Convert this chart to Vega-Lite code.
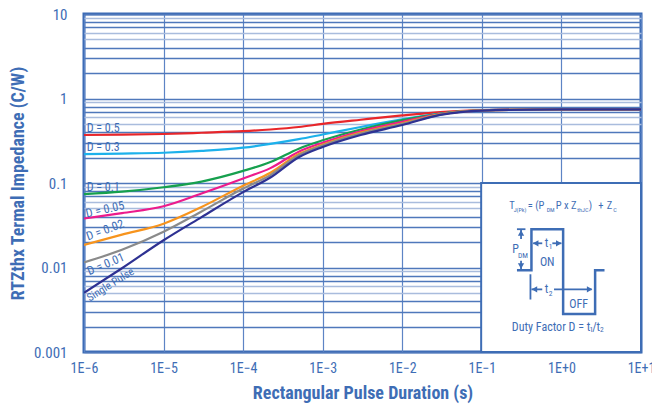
{
  "$schema": "https://vega.github.io/schema/vega-lite/v6.json",
  "width": 557,
  "height": 338,
  "autosize": "none",
  "padding": {"left": 84, "top": 14, "right": 11, "bottom": 57},
  "background": "white",
  "config": {
    "view": {"stroke": "#3a6ab5", "strokeWidth": 3},
    "font": "Roboto Condensed, Liberation Sans Narrow, DejaVu Sans Condensed, sans-serif",
    "text": {"font": "Roboto Condensed, Liberation Sans Narrow, DejaVu Sans Condensed, sans-serif", "color": "#3e6db5"}
  },
  "datasets": {
    "curves": [
      {"series": "D = 0.5", "x": 1e-6, "y": 0.37}, {"series": "D = 0.5", "x": 3e-6, "y": 0.373}, {"series": "D = 0.5", "x": 1e-5, "y": 0.38}, {"series": "D = 0.5", "x": 3e-5, "y": 0.393}, {"series": "D = 0.5", "x": 1e-4, "y": 0.41}, {"series": "D = 0.5", "x": 2.2e-4, "y": 0.43}, {"series": "D = 0.5", "x": 5e-4, "y": 0.46}, {"series": "D = 0.5", "x": 1e-3, "y": 0.5}, {"series": "D = 0.5", "x": 3e-3, "y": 0.56}, {"series": "D = 0.5", "x": 1e-2, "y": 0.63}, {"series": "D = 0.5", "x": 3e-2, "y": 0.69}, {"series": "D = 0.5", "x": 0.1, "y": 0.73}, {"series": "D = 0.5", "x": 1, "y": 0.745}, {"series": "D = 0.5", "x": 10, "y": 0.745},
      {"series": "D = 0.3", "x": 1e-6, "y": 0.22}, {"series": "D = 0.3", "x": 3e-6, "y": 0.223}, {"series": "D = 0.3", "x": 1e-5, "y": 0.228}, {"series": "D = 0.3", "x": 3e-5, "y": 0.24}, {"series": "D = 0.3", "x": 1e-4, "y": 0.262}, {"series": "D = 0.3", "x": 2.2e-4, "y": 0.29}, {"series": "D = 0.3", "x": 5e-4, "y": 0.33}, {"series": "D = 0.3", "x": 1e-3, "y": 0.375}, {"series": "D = 0.3", "x": 3e-3, "y": 0.46}, {"series": "D = 0.3", "x": 1e-2, "y": 0.565}, {"series": "D = 0.3", "x": 3e-2, "y": 0.665}, {"series": "D = 0.3", "x": 0.1, "y": 0.725}, {"series": "D = 0.3", "x": 1, "y": 0.745}, {"series": "D = 0.3", "x": 10, "y": 0.745},
      {"series": "D = 0.1", "x": 1e-6, "y": 0.074}, {"series": "D = 0.1", "x": 3e-6, "y": 0.079}, {"series": "D = 0.1", "x": 1e-5, "y": 0.089}, {"series": "D = 0.1", "x": 3e-5, "y": 0.104}, {"series": "D = 0.1", "x": 1e-4, "y": 0.139}, {"series": "D = 0.1", "x": 2.2e-4, "y": 0.177}, {"series": "D = 0.1", "x": 5e-4, "y": 0.255}, {"series": "D = 0.1", "x": 1e-3, "y": 0.32}, {"series": "D = 0.1", "x": 3e-3, "y": 0.43}, {"series": "D = 0.1", "x": 1e-2, "y": 0.555}, {"series": "D = 0.1", "x": 3e-2, "y": 0.66}, {"series": "D = 0.1", "x": 0.1, "y": 0.725}, {"series": "D = 0.1", "x": 1, "y": 0.745}, {"series": "D = 0.1", "x": 10, "y": 0.745},
      {"series": "D = 0.05", "x": 1e-6, "y": 0.038}, {"series": "D = 0.05", "x": 3e-6, "y": 0.044}, {"series": "D = 0.05", "x": 1e-5, "y": 0.053}, {"series": "D = 0.05", "x": 3e-5, "y": 0.075}, {"series": "D = 0.05", "x": 1e-4, "y": 0.113}, {"series": "D = 0.05", "x": 2.2e-4, "y": 0.15}, {"series": "D = 0.05", "x": 5e-4, "y": 0.235}, {"series": "D = 0.05", "x": 1e-3, "y": 0.3}, {"series": "D = 0.05", "x": 3e-3, "y": 0.41}, {"series": "D = 0.05", "x": 1e-2, "y": 0.53}, {"series": "D = 0.05", "x": 3e-2, "y": 0.655}, {"series": "D = 0.05", "x": 0.1, "y": 0.725}, {"series": "D = 0.05", "x": 1, "y": 0.745}, {"series": "D = 0.05", "x": 10, "y": 0.745},
      {"series": "D = 0.02", "x": 1e-6, "y": 0.0185}, {"series": "D = 0.02", "x": 3e-6, "y": 0.0245}, {"series": "D = 0.02", "x": 1e-5, "y": 0.033}, {"series": "D = 0.02", "x": 3e-5, "y": 0.052}, {"series": "D = 0.02", "x": 1e-4, "y": 0.093}, {"series": "D = 0.02", "x": 2.2e-4, "y": 0.132}, {"series": "D = 0.02", "x": 5e-4, "y": 0.22}, {"series": "D = 0.02", "x": 1e-3, "y": 0.285}, {"series": "D = 0.02", "x": 3e-3, "y": 0.395}, {"series": "D = 0.02", "x": 1e-2, "y": 0.51}, {"series": "D = 0.02", "x": 3e-2, "y": 0.65}, {"series": "D = 0.02", "x": 0.1, "y": 0.722}, {"series": "D = 0.02", "x": 1, "y": 0.744}, {"series": "D = 0.02", "x": 10, "y": 0.745},
      {"series": "D = 0.01", "x": 1e-6, "y": 0.0115}, {"series": "D = 0.01", "x": 3e-6, "y": 0.0162}, {"series": "D = 0.01", "x": 1e-5, "y": 0.0265}, {"series": "D = 0.01", "x": 3e-5, "y": 0.046}, {"series": "D = 0.01", "x": 1e-4, "y": 0.086}, {"series": "D = 0.01", "x": 2.2e-4, "y": 0.124}, {"series": "D = 0.01", "x": 5e-4, "y": 0.213}, {"series": "D = 0.01", "x": 1e-3, "y": 0.278}, {"series": "D = 0.01", "x": 3e-3, "y": 0.385}, {"series": "D = 0.01", "x": 1e-2, "y": 0.5}, {"series": "D = 0.01", "x": 3e-2, "y": 0.645}, {"series": "D = 0.01", "x": 0.1, "y": 0.721}, {"series": "D = 0.01", "x": 1, "y": 0.743}, {"series": "D = 0.01", "x": 10, "y": 0.745},
      {"series": "Single Pulse", "x": 1e-6, "y": 0.005}, {"series": "Single Pulse", "x": 3e-6, "y": 0.0098}, {"series": "Single Pulse", "x": 1e-5, "y": 0.021}, {"series": "Single Pulse", "x": 3e-5, "y": 0.0395}, {"series": "Single Pulse", "x": 1e-4, "y": 0.078}, {"series": "Single Pulse", "x": 2.2e-4, "y": 0.116}, {"series": "Single Pulse", "x": 5e-4, "y": 0.202}, {"series": "Single Pulse", "x": 1e-3, "y": 0.267}, {"series": "Single Pulse", "x": 3e-3, "y": 0.37}, {"series": "Single Pulse", "x": 1e-2, "y": 0.486}, {"series": "Single Pulse", "x": 3e-2, "y": 0.64}, {"series": "Single Pulse", "x": 0.1, "y": 0.72}, {"series": "Single Pulse", "x": 1, "y": 0.742}, {"series": "Single Pulse", "x": 10, "y": 0.745}
    ],
    "labels": [
      {"text": "D = 0.5", "x": 1.08e-6, "y": 0.4476, "grp": "flat"},
      {"text": "D = 0.3", "x": 1.08e-6, "y": 0.2646, "grp": "flat"},
      {"text": "D = 0.1", "x": 1.08e-6, "y": 0.0885, "grp": "flat"},
      {"text": "D = 0.05", "x": 1.835e-6, "y": 0.04884, "grp": "a13"},
      {"text": "D = 0.02", "x": 1.835e-6, "y": 0.02779, "grp": "a20"},
      {"text": "D = 0.01", "x": 1.873e-6, "y": 0.011, "grp": "a23"},
      {"text": "Single Pulse", "x": 2.165e-6, "y": 0.00621, "grp": "a30"}
    ],
    "box": [{"x": 0.098, "x2": 10, "y": 0.001, "y2": 0.1}],
    "wave": [
      {"x": 0.2761, "y": 0.00929, "o": 1}, {"x": 0.4199, "y": 0.00929, "o": 2}, {"x": 0.4199, "y": 0.0284, "o": 3}, {"x": 1.0505, "y": 0.0284, "o": 4}, {"x": 1.0505, "y": 0.00282, "o": 5}, {"x": 2.651, "y": 0.00282, "o": 6}, {"x": 2.651, "y": 0.00929, "o": 7}, {"x": 3.479, "y": 0.00929, "o": 8}
    ],
    "segs": [
      {"x": 0.2761, "x2": 0.353, "y": 0.0284, "y2": 0.0284},
      {"x": 0.3108, "x2": 0.3108, "y": 0.0284, "y2": 0.0218},
      {"x": 0.3108, "x2": 0.3108, "y": 0.012, "y2": 0.00929},
      {"x": 0.441, "x2": 0.574, "y": 0.01934, "y2": 0.01934},
      {"x": 0.7686, "x2": 1.0, "y": 0.01934, "y2": 0.01934},
      {"x": 0.408, "x2": 0.408, "y": 0.00831, "y2": 0.00418},
      {"x": 0.4199, "x2": 0.574, "y": 0.00551, "y2": 0.00551},
      {"x": 0.8072, "x2": 2.403, "y": 0.00551, "y2": 0.00551}
    ],
    "heads": [
      {"x": 0.3108, "y": 0.0256, "dir": "up"},
      {"x": 0.3108, "y": 0.0104, "dir": "down"},
      {"x": 0.475, "y": 0.01934, "dir": "left"},
      {"x": 0.925, "y": 0.01934, "dir": "right"},
      {"x": 0.458, "y": 0.00551, "dir": "left"},
      {"x": 2.26, "y": 0.00551, "dir": "right"}
    ],
    "itext": [
      {"t": "T", "x": 0.2209, "y": 0.05358, "kind": "fmain"},
      {"t": "= (P", "x": 0.3773, "y": 0.05358, "kind": "fmain"},
      {"t": "P x Z", "x": 0.8503, "y": 0.05358, "kind": "fmain"},
      {"t": ")", "x": 2.209, "y": 0.05358, "kind": "fmain"},
      {"t": "+", "x": 2.908, "y": 0.05358, "kind": "fmain"},
      {"t": "Z", "x": 3.719, "y": 0.05358, "kind": "fmain"},
      {"t": "J(Pk)", "x": 0.2508, "y": 0.04752, "kind": "fsub"},
      {"t": "DM", "x": 0.6518, "y": 0.04752, "kind": "fsub"},
      {"t": "thJC", "x": 1.584, "y": 0.04752, "kind": "fsub"},
      {"t": "C", "x": 4.487, "y": 0.04752, "kind": "fsub"},
      {"t": "P", "x": 0.2658, "y": 0.01643, "kind": "cmain"},
      {"t": "t", "x": 0.6516, "y": 0.01934, "kind": "cmain"},
      {"t": "ON", "x": 0.6632, "y": 0.01168, "kind": "cmain"},
      {"t": "t", "x": 0.6516, "y": 0.00551, "kind": "cmain"},
      {"t": "OFF", "x": 1.645, "y": 0.00371, "kind": "cmain"},
      {"t": "/t", "x": 2.73, "y": 0.00197, "kind": "cmain"},
      {"t": "DM", "x": 0.3293, "y": 0.01353, "kind": "csub"},
      {"t": "1", "x": 0.7316, "y": 0.01734, "kind": "csub"},
      {"t": "2", "x": 0.7316, "y": 0.00492, "kind": "csub"},
      {"t": "1", "x": 2.37, "y": 0.0018, "kind": "csub"},
      {"t": "2", "x": 3.23, "y": 0.0018, "kind": "csub"},
      {"t": "Duty Factor D = t", "x": 2.3, "y": 0.00197, "kind": "rmain"}
    ]
  },
  "encoding": {
    "x": {
      "field": "x", "type": "quantitative",
      "scale": {"type": "log", "domain": [1e-6, 10]},
      "axis": {
        "title": "Rectangular Pulse Duration (s)",
        "values": [1e-6, 1e-5, 1e-4, 1e-3, 1e-2, 1e-1, 1, 10],
        "labelExpr": "'1E' + (datum.value >= 1 ? '+' : '') + format(round(log(datum.value)/LN10), 'd')",
        "domain": false, "ticks": false,
        "grid": true, "gridColor": "#5d84c5", "gridWidth": 1.2,
        "labelFontSize": 14, "labelColor": "#3e6db5", "labelPadding": 9,
        "labelFlush": false, "labelOverlap": false,
        "titleFontSize": 18, "titleFontWeight": "bold", "titleColor": "#3e6db5", "titlePadding": 9
      }
    },
    "y": {
      "field": "y", "type": "quantitative",
      "scale": {"type": "log", "domain": [0.001, 10]},
      "axis": {
        "title": "RTZthx Termal Impedance (C/W)",
        "values": [0.001, 0.002, 0.003, 0.004, 0.005, 0.006, 0.007, 0.008, 0.009, 0.01, 0.02, 0.03, 0.04, 0.05, 0.06, 0.07, 0.08, 0.09, 0.1, 0.2, 0.3, 0.4, 0.5, 0.6, 0.7, 0.8, 0.9, 1, 2, 3, 4, 5, 6, 7, 8, 9, 10],
        "labelExpr": "indexof([0.001, 0.01, 0.1, 1, 10], datum.value) >= 0 ? format(datum.value, '~g') : ''",
        "domain": false, "ticks": false,
        "grid": true,
        "gridColor": {"condition": {"test": "indexof([0.005, 0.006, 0.009, 0.05, 0.06, 0.09, 0.5, 0.6, 0.9, 5, 6, 9], datum.value) >= 0", "value": "#a9bcdd"}, "value": "#4f78bb"},
        "gridWidth": 1.3,
        "labelFontSize": 15, "labelColor": "#3e6db5", "labelPadding": 17,
        "labelOverlap": false, "labelFlush": false,
        "titleFontSize": 18, "titleFontWeight": "bold", "titleColor": "#3e6db5", "titlePadding": 6
      }
    }
  },
  "layer": [
    {
      "data": {"name": "curves"},
      "mark": {"type": "line", "interpolate": "monotone", "strokeWidth": 2.2, "clip": true},
      "encoding": {
        "color": {
          "field": "series", "type": "nominal",
          "scale": {
            "domain": ["D = 0.5", "D = 0.3", "D = 0.1", "D = 0.05", "D = 0.02", "D = 0.01", "Single Pulse"],
            "range": ["#e8262a", "#1cb1eb", "#16a04e", "#ec1b8c", "#f7941d", "#8a8a8a", "#2e3192"]
          },
          "legend": null
        },
        "order": {"field": "x", "type": "quantitative"}
      }
    },
    {
      "data": {"name": "labels"},
      "transform": [{"filter": "datum.grp === 'flat'"}],
      "mark": {"type": "text", "align": "left", "baseline": "middle", "fontSize": 12},
      "encoding": {"text": {"field": "text"}}
    },
    {
      "data": {"name": "labels"},
      "transform": [{"filter": "datum.grp === 'a13'"}],
      "mark": {"type": "text", "align": "center", "baseline": "middle", "fontSize": 12, "angle": 347},
      "encoding": {"text": {"field": "text"}}
    },
    {
      "data": {"name": "labels"},
      "transform": [{"filter": "datum.grp === 'a20'"}],
      "mark": {"type": "text", "align": "center", "baseline": "middle", "fontSize": 12, "angle": 340},
      "encoding": {"text": {"field": "text"}}
    },
    {
      "data": {"name": "labels"},
      "transform": [{"filter": "datum.grp === 'a23'"}],
      "mark": {"type": "text", "align": "center", "baseline": "middle", "fontSize": 12, "angle": 337},
      "encoding": {"text": {"field": "text"}}
    },
    {
      "data": {"name": "labels"},
      "transform": [{"filter": "datum.grp === 'a30'"}],
      "mark": {"type": "text", "align": "center", "baseline": "middle", "fontSize": 11, "angle": 328},
      "encoding": {"text": {"field": "text"}}
    },
    {
      "data": {"name": "box"},
      "mark": {"type": "rect", "fill": "white", "stroke": "#3e6db5", "strokeWidth": 2},
      "encoding": {"x2": {"field": "x2"}, "y2": {"field": "y2"}}
    },
    {
      "data": {"name": "wave"},
      "mark": {"type": "line", "color": "#3e6db5", "strokeWidth": 2.5, "strokeJoin": "miter"},
      "encoding": {"order": {"field": "o", "type": "quantitative"}}
    },
    {
      "data": {"name": "segs"},
      "mark": {"type": "rule", "color": "#3e6db5", "strokeWidth": 1.8},
      "encoding": {"x2": {"field": "x2"}, "y2": {"field": "y2"}}
    },
    {
      "data": {"name": "heads"},
      "mark": {"type": "point", "filled": true, "color": "#3e6db5", "size": 40, "opacity": 1},
      "encoding": {
        "shape": {"field": "dir", "type": "nominal", "scale": {"domain": ["up", "down", "left", "right"], "range": ["triangle-up", "triangle-down", "triangle-left", "triangle-right"]}, "legend": null}
      }
    },
    {
      "data": {"name": "itext"},
      "transform": [{"filter": "datum.kind === 'fmain'"}],
      "mark": {"type": "text", "align": "left", "baseline": "middle", "fontSize": 10.5},
      "encoding": {"text": {"field": "t"}}
    },
    {
      "data": {"name": "itext"},
      "transform": [{"filter": "datum.kind === 'fsub'"}],
      "mark": {"type": "text", "align": "left", "baseline": "middle", "fontSize": 6},
      "encoding": {"text": {"field": "t"}}
    },
    {
      "data": {"name": "itext"},
      "transform": [{"filter": "datum.kind === 'cmain'"}],
      "mark": {"type": "text", "align": "center", "baseline": "middle", "fontSize": 12},
      "encoding": {"text": {"field": "t"}}
    },
    {
      "data": {"name": "itext"},
      "transform": [{"filter": "datum.kind === 'csub'"}],
      "mark": {"type": "text", "align": "center", "baseline": "middle", "fontSize": 7.5},
      "encoding": {"text": {"field": "t"}}
    },
    {
      "data": {"name": "itext"},
      "transform": [{"filter": "datum.kind === 'rmain'"}],
      "mark": {"type": "text", "align": "right", "baseline": "middle", "fontSize": 12},
      "encoding": {"text": {"field": "t"}}
    }
  ]
}
